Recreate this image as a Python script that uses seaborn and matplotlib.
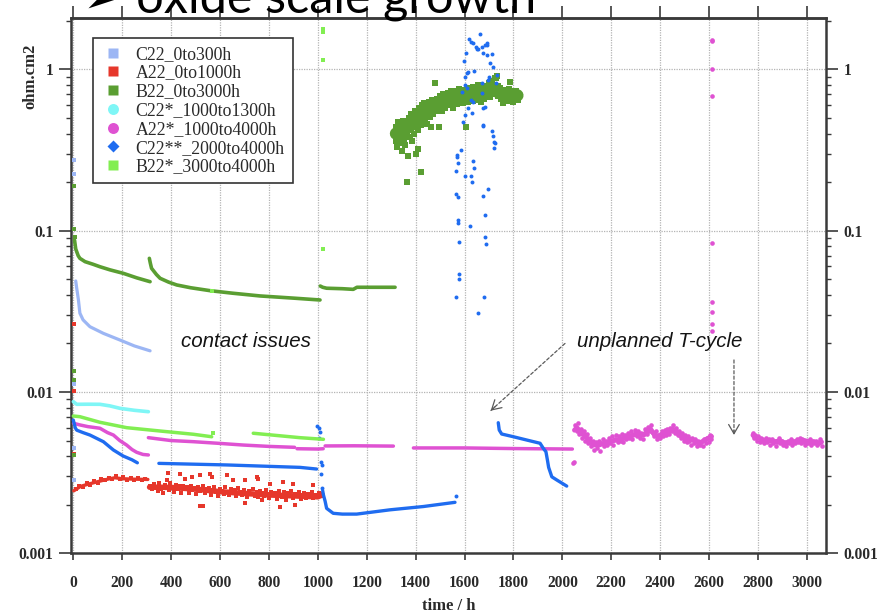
import math
import matplotlib
matplotlib.use("Agg")
import matplotlib.pyplot as plt
import seaborn as sns
from matplotlib.lines import Line2D
from matplotlib.ticker import LogLocator, NullFormatter

# ---------------------------------------------------------------- data
# each series is stored as (time in h, area specific resistance in ohm.cm2)

SERIES = ["C22_0to300h", "A22_0to1000h", "B22_0to3000h", "C22*_1000to1300h",
          "A22*_1000to4000h", "C22**_2000to4000h", "B22*_3000to4000h"]
COLORS = ["#9cb6f4", "#e6372b", "#5a9e32", "#7ff6f6", "#df52d2", "#1f6cf0", "#82ee52"]
MARKERS = ["s", "s", "s", "o", "o", "D", "s"]

XTICKS = list(range(0, 3001, 200))
YTICKS = [0.001, 0.01, 0.1, 1]
YTICK_LABELS = ["0.001", "0.01", "0.1", "1"]

# C22_0to300h
C22_CURVE = [(10, 0.0488), (14, 0.044), (18, 0.040), (21, 0.0372), (27, 0.0308), (40, 0.028),
             (68, 0.0254), (123, 0.0231), (191, 0.021), (250, 0.0193), (314, 0.0180)]
C22_POINTS = [(3, 0.274), (3, 0.225), (2, 0.0114), (2, 0.0112), (3, 0.0045), (2, 0.00285)]

# A22_0to1000h
A22_CURVE = [(2, 0.00244), (30, 0.0026), (60, 0.00268), (100, 0.00278), (140, 0.00288),
             (170, 0.00294), (200, 0.0029), (250, 0.00288), (305, 0.00287)]
A22_BAND = [(312, 0.00257), (400, 0.00256), (500, 0.0025), (600, 0.00241), (700, 0.00235),
            (800, 0.0023), (900, 0.00227), (1000, 0.00224), (1018, 0.0023)]
A22_POINTS = [(4, 0.0264), (3, 0.0102), (4, 0.00413),
              (10, 0.00250), (25, 0.00262), (40, 0.00259), (55, 0.00272), (70, 0.00266),
              (85, 0.00280), (100, 0.00273), (115, 0.00289), (130, 0.00283), (145, 0.00295),
              (160, 0.00288), (175, 0.00300), (190, 0.00289), (205, 0.00296), (220, 0.00285),
              (235, 0.00293), (250, 0.00283), (265, 0.00291), (280, 0.00284), (295, 0.00290),
              (315, 0.00262), (322, 0.00249), (330, 0.00268), (338, 0.00254), (345, 0.00243),
              (352, 0.00271), (360, 0.00252), (367, 0.00238), (375, 0.00265), (382, 0.00259),
              (390, 0.00247), (397, 0.00272), (405, 0.00255), (412, 0.00241), (420, 0.00266),
              (427, 0.00251), (435, 0.00260), (442, 0.00238), (450, 0.00263), (457, 0.00249),
              (465, 0.00257), (472, 0.00236), (480, 0.00261), (487, 0.00246), (495, 0.00254),
              (502, 0.00232), (510, 0.00258), (517, 0.00243), (525, 0.00251), (532, 0.00262),
              (540, 0.00237), (547, 0.00249), (555, 0.00255), (562, 0.00230), (570, 0.00247),
              (577, 0.00258), (585, 0.00240), (592, 0.00226), (600, 0.00252), (607, 0.00244),
              (615, 0.00233), (622, 0.00256), (630, 0.00241), (637, 0.00229), (645, 0.00250),
              (652, 0.00238), (660, 0.00246), (667, 0.00226), (675, 0.00253), (682, 0.00239),
              (690, 0.00231), (697, 0.00248), (705, 0.00236), (712, 0.00224), (720, 0.00245),
              (727, 0.00233), (735, 0.00251), (742, 0.00228), (750, 0.00240), (757, 0.00222),
              (765, 0.00244), (772, 0.00235), (780, 0.00226), (787, 0.00247), (795, 0.00232),
              (802, 0.00220), (810, 0.00241), (817, 0.00229), (825, 0.00238), (832, 0.00218),
              (840, 0.00243), (847, 0.00231), (855, 0.00224), (862, 0.00240), (870, 0.00215),
              (877, 0.00235), (885, 0.00227), (892, 0.00242), (900, 0.00220), (907, 0.00233),
              (915, 0.00226), (922, 0.00239), (930, 0.00217), (937, 0.00230), (945, 0.00236),
              (952, 0.00221), (960, 0.00233), (967, 0.00226), (975, 0.00240), (982, 0.00219),
              (990, 0.00231), (997, 0.00225), (1005, 0.00236), (1012, 0.00228), (1018, 0.00232),
              # scattered readings off the band
              (389, 0.00313), (437, 0.0031), (484, 0.00299), (518, 0.00306), (559, 0.0031),
              (566, 0.00299), (627, 0.00306), (655, 0.00285), (702, 0.00285), (750, 0.00297),
              (757, 0.0029), (804, 0.0027), (859, 0.00275), (900, 0.0027), (982, 0.00265),
              (382, 0.00285), (457, 0.0029), (518, 0.00196), (532, 0.00196), (702, 0.00204),
              (845, 0.00195), (906, 0.00199), (770, 0.00214)]

# B22_0to3000h
B22_SEG1 = [(5, 0.0875), (10, 0.077), (20, 0.070), (27, 0.0674), (48, 0.0643), (80, 0.062),
            (109, 0.0598), (150, 0.0572), (205, 0.0544), (260, 0.051), (314, 0.0483)]
B22_SEG2 = [(311, 0.0674), (315, 0.063), (320, 0.0585), (340, 0.0535), (355, 0.0507),
            (390, 0.048), (423, 0.0461), (480, 0.0443), (559, 0.0425), (650, 0.041),
            (764, 0.0394), (900, 0.0382), (1009, 0.0372)]
B22_SEG3 = [(1010, 0.0454), (1020, 0.0446), (1036, 0.0440), (1100, 0.0437), (1145, 0.0433),
            (1160, 0.0446), (1316, 0.0446)]
B22_POINTS = [(4, 0.189), (4, 0.103), (5, 0.0916), (3, 0.0135), (3, 0.0119), (4, 0.00408)]
B22_CLOUD = [(1318, 0.36), (1320, 0.44), (1322, 0.40), (1325, 0.33), (1328, 0.47), (1330, 0.38),
             (1333, 0.42), (1336, 0.35), (1340, 0.45), (1342, 0.39), (1345, 0.31), (1348, 0.43),
             (1350, 0.48), (1352, 0.37), (1355, 0.41), (1358, 0.34), (1360, 0.46), (1363, 0.40),
             (1366, 0.20), (1368, 0.44), (1370, 0.29), (1372, 0.50), (1375, 0.38), (1378, 0.47),
             (1380, 0.42), (1383, 0.53), (1386, 0.36), (1388, 0.45), (1390, 0.49), (1393, 0.40),
             (1396, 0.55), (1398, 0.44), (1400, 0.30), (1402, 0.51), (1405, 0.47), (1408, 0.42),
             (1411, 0.32), (1413, 0.58), (1416, 0.49), (1418, 0.54), (1421, 0.23), (1423, 0.45),
             (1426, 0.60), (1428, 0.52), (1431, 0.48), (1434, 0.56), (1436, 0.62), (1439, 0.50),
             (1442, 0.57), (1445, 0.46), (1447, 0.60), (1450, 0.54), (1453, 0.63), (1456, 0.58),
             (1458, 0.51), (1461, 0.44), (1464, 0.61), (1466, 0.56), (1469, 0.65), (1472, 0.53),
             (1475, 0.59), (1478, 0.62), (1481, 0.82), (1483, 0.55), (1486, 0.66), (1489, 0.60),
             (1492, 0.57), (1495, 0.64), (1497, 0.44), (1498, 0.68), (1501, 0.59), (1504, 0.62),
             (1507, 0.55), (1510, 0.66), (1513, 0.70), (1516, 0.61), (1519, 0.64), (1522, 0.58),
             (1525, 0.68), (1528, 0.63), (1531, 0.71), (1534, 0.60), (1537, 0.66), (1540, 0.69),
             (1543, 0.62), (1546, 0.73), (1549, 0.65), (1552, 0.58), (1555, 0.70), (1558, 0.67),
             (1561, 0.63), (1564, 0.74), (1567, 0.68), (1570, 0.61), (1573, 0.71), (1576, 0.66),
             (1579, 0.76), (1582, 0.64), (1585, 0.70), (1588, 0.67), (1591, 0.73), (1594, 0.62),
             (1597, 0.69), (1600, 0.75), (1603, 0.66), (1606, 0.44), (1609, 0.72), (1612, 0.68),
             (1615, 0.63), (1618, 0.77), (1621, 0.70), (1624, 0.66), (1627, 0.73), (1630, 0.69),
             (1633, 0.64), (1636, 0.78), (1639, 0.71), (1642, 0.67), (1645, 0.74), (1648, 0.70),
             (1651, 0.65), (1654, 0.80), (1657, 0.72), (1660, 0.68), (1663, 0.75), (1666, 0.63),
             (1669, 0.71), (1672, 0.77), (1675, 0.69), (1678, 0.74), (1681, 0.66), (1684, 0.79),
             (1687, 0.72), (1690, 0.68), (1693, 0.76), (1696, 0.70), (1699, 0.82), (1702, 0.73),
             (1705, 0.67), (1708, 0.78), (1711, 0.71), (1714, 0.85), (1717, 0.75), (1720, 0.80),
             (1723, 0.70), (1726, 0.88), (1728, 0.89), (1729, 0.76), (1732, 0.91), (1735, 0.79),
             (1738, 0.68), (1741, 0.74), (1744, 0.71), (1747, 0.77), (1750, 0.66), (1753, 0.73),
             (1756, 0.69), (1759, 0.62), (1762, 0.75), (1765, 0.70), (1768, 0.67), (1771, 0.74),
             (1774, 0.64), (1777, 0.71), (1780, 0.68), (1783, 0.76), (1786, 0.83), (1789, 0.66),
             (1792, 0.72), (1795, 0.69), (1798, 0.63), (1801, 0.74), (1804, 0.70), (1807, 0.66),
             (1810, 0.73), (1813, 0.68), (1816, 0.71), (1818, 0.65)]
# the dense core of the B22 cloud
B22_CLOUD_CORE = [(1320, 0.40), (1340, 0.41), (1360, 0.43), (1380, 0.45), (1400, 0.48),
                  (1420, 0.51), (1440, 0.55), (1460, 0.58), (1480, 0.60), (1500, 0.62),
                  (1520, 0.63), (1540, 0.65), (1560, 0.67), (1580, 0.68), (1600, 0.69),
                  (1620, 0.70), (1640, 0.71), (1660, 0.71), (1680, 0.72), (1700, 0.73),
                  (1720, 0.75), (1740, 0.72), (1760, 0.70), (1780, 0.70), (1800, 0.70),
                  (1816, 0.69)]

# C22*_1000to1300h
C22S_CURVE = [(0, 0.00871), (14, 0.00839), (60, 0.0084), (109, 0.00839), (150, 0.0082),
              (191, 0.00792), (250, 0.0077), (307, 0.00755)]

# A22*_1000to4000h
A22S_SEG1 = [(1, 0.0064), (27, 0.00625), (60, 0.0061), (109, 0.00596), (140, 0.0056),
             (164, 0.00541), (190, 0.0050), (218, 0.00469), (240, 0.0044), (259, 0.00423),
             (285, 0.0041), (307, 0.00407)]
A22S_SEG2 = [(307, 0.00521), (400, 0.0050), (491, 0.00492), (600, 0.0048), (695, 0.00469),
             (800, 0.0046), (905, 0.00454)]
A22S_SEG3 = [(915, 0.00445), (1000, 0.00443), (1022, 0.00445)]
A22S_SEG4 = [(1030, 0.00463), (1150, 0.00464), (1309, 0.00462)]
A22S_SEG5 = [(1391, 0.0045), (1600, 0.0045), (1800, 0.00446), (2041, 0.00443)]
A22S_SEG6 = [(2050, 0.0058), (2060, 0.0060), (2075, 0.0056), (2090, 0.0054), (2110, 0.0050),
             (2130, 0.0047), (2150, 0.0047), (2170, 0.0048), (2190, 0.0049), (2210, 0.0050),
             (2240, 0.0051), (2270, 0.0053), (2290, 0.0054), (2310, 0.0055), (2330, 0.0054),
             (2350, 0.0057), (2360, 0.0059), (2375, 0.0055), (2390, 0.0053), (2410, 0.0055),
             (2430, 0.0056), (2450, 0.0059), (2465, 0.0057), (2480, 0.0054), (2500, 0.0052),
             (2520, 0.0051), (2540, 0.0050), (2560, 0.0048), (2580, 0.0050), (2600, 0.0052),
             (2610, 0.0053)]
A22S_SEG7 = [(2780, 0.0054), (2790, 0.0052), (2810, 0.0051), (2830, 0.0050), (2850, 0.0050),
             (2870, 0.0049), (2890, 0.0050), (2910, 0.0048), (2930, 0.0049), (2950, 0.0049),
             (2970, 0.0050), (2990, 0.0050), (3010, 0.0049), (3030, 0.0049), (3050, 0.0048),
             (3060, 0.0049)]
A22S_POINTS = [(2045, 0.00361), (2049, 0.0037),
               (2613, 1.52), (2613, 1.49), (2612, 1.01), (2613, 0.684), (2612, 0.0836),
               (2612, 0.0363), (2613, 0.0315), (2613, 0.0264), (2613, 0.024),
               (2052, 0.0062), (2058, 0.0057), (2064, 0.0064), (2070, 0.0055), (2076, 0.0059),
               (2082, 0.0052), (2088, 0.0057), (2094, 0.0050), (2100, 0.0055), (2106, 0.0048),
               (2112, 0.0052), (2118, 0.0046), (2124, 0.0050), (2130, 0.0044), (2136, 0.0049),
               (2142, 0.0045), (2148, 0.0050), (2154, 0.0043), (2160, 0.0048), (2166, 0.0051),
               (2172, 0.0046), (2178, 0.0050), (2184, 0.0047), (2190, 0.0052), (2196, 0.0048),
               (2202, 0.0053), (2208, 0.0047), (2214, 0.0051), (2220, 0.0054), (2226, 0.0049),
               (2232, 0.0053), (2238, 0.0050), (2244, 0.0055), (2250, 0.0049), (2256, 0.0054),
               (2262, 0.0051), (2268, 0.0056), (2274, 0.0052), (2280, 0.0057), (2286, 0.0051),
               (2292, 0.0055), (2298, 0.0058), (2304, 0.0053), (2310, 0.0057), (2316, 0.0052),
               (2322, 0.0056), (2328, 0.0051), (2334, 0.0055), (2340, 0.0059), (2346, 0.0055),
               (2352, 0.0061), (2358, 0.0057), (2364, 0.0062), (2370, 0.0056), (2376, 0.0053),
               (2382, 0.0057), (2388, 0.0051), (2394, 0.0054), (2400, 0.0052), (2406, 0.0057),
               (2412, 0.0053), (2418, 0.0058), (2424, 0.0054), (2430, 0.0059), (2436, 0.0055),
               (2442, 0.0060), (2448, 0.0057), (2454, 0.0062), (2460, 0.0056), (2466, 0.0060),
               (2472, 0.0054), (2478, 0.0057), (2484, 0.0052), (2490, 0.0056), (2496, 0.0050),
               (2502, 0.0054), (2508, 0.0049), (2514, 0.0053), (2520, 0.0050), (2526, 0.0047),
               (2532, 0.0052), (2538, 0.0048), (2544, 0.0051), (2550, 0.0046), (2556, 0.0050),
               (2562, 0.0047), (2568, 0.0049), (2574, 0.0046), (2580, 0.0051), (2586, 0.0048),
               (2592, 0.0052), (2598, 0.0049), (2604, 0.0054), (2610, 0.0051),
               (2778, 0.0056), (2784, 0.0052), (2790, 0.0054), (2796, 0.0050), (2802, 0.0053),
               (2808, 0.0049), (2814, 0.0052), (2820, 0.0050), (2826, 0.0048), (2832, 0.0052),
               (2838, 0.0049), (2844, 0.0051), (2850, 0.0047), (2856, 0.0051), (2862, 0.0048),
               (2868, 0.0050), (2874, 0.0046), (2880, 0.0049), (2886, 0.0052), (2892, 0.0048),
               (2898, 0.0050), (2904, 0.0047), (2910, 0.0049), (2916, 0.0046), (2922, 0.0050),
               (2928, 0.0048), (2934, 0.0051), (2940, 0.0047), (2946, 0.0050), (2952, 0.0048),
               (2958, 0.0051), (2964, 0.0049), (2970, 0.0052), (2976, 0.0048), (2982, 0.0051),
               (2988, 0.0049), (2994, 0.0047), (3000, 0.0050), (3006, 0.0048), (3012, 0.0051),
               (3018, 0.0047), (3024, 0.0050), (3030, 0.0048), (3036, 0.0050), (3042, 0.0047),
               (3048, 0.0049), (3054, 0.0051), (3060, 0.0046)]

# C22**_2000to4000h
C22SS_SEG1 = [(0, 0.0067), (8, 0.0060), (14, 0.0058), (40, 0.0056), (68, 0.00541),
              (123, 0.00492), (164, 0.00437), (204, 0.00401), (240, 0.0038), (262, 0.00364)]
C22SS_SEG2 = [(350, 0.00361), (627, 0.00353), (927, 0.00341), (995, 0.00333)]
C22SS_SEG3 = [(1020, 0.00244), (1023, 0.0023), (1030, 0.0021), (1036, 0.0019), (1063, 0.00177),
              (1100, 0.00175), (1159, 0.00175), (1295, 0.00186), (1432, 0.00195), (1561, 0.00207)]
C22SS_SEG4 = [(1738, 0.00645), (1742, 0.00581), (1752, 0.00549), (1800, 0.00528),
              (1854, 0.00504), (1909, 0.00481), (1922, 0.00448), (1933, 0.00426),
              (1939, 0.00379), (1944, 0.00341), (1957, 0.00298), (1977, 0.00285),
              (2018, 0.00261)]
C22SS_POINTS = [(998, 0.00618), (1005, 0.00595), (1011, 0.00563), (1003, 0.00516),
                (1014, 0.0037), (1016, 0.00353), (1014, 0.0031), (1016, 0.00253), (1565, 0.00227),
                (1663, 1.66), (1620, 1.54), (1625, 1.48), (1636, 1.45), (1647, 1.37), (1650, 1.33),
                (1657, 1.33), (1670, 1.37), (1684, 1.42), (1691, 1.46), (1693, 1.42), (1677, 1.26),
                (1693, 1.23), (1711, 1.25), (1606, 1.26), (1598, 1.12), (1616, 0.968), (1612, 0.946),
                (1639, 0.982), (1602, 0.901), (1704, 1.10), (1718, 1.03), (1701, 0.901),
                (1698, 0.859), (1732, 0.923), (1729, 0.82), (1670, 0.827), (1602, 0.80),
                (1609, 0.763), (1589, 0.727), (1670, 0.711), (1636, 0.631), (1625, 0.646),
                (1616, 0.574), (1629, 0.539), (1677, 0.574), (1684, 0.582), (1602, 0.521),
                (1595, 0.474), (1677, 0.452), (1676, 0.445), (1711, 0.417), (1715, 0.387),
                (1721, 0.356), (1725, 0.35), (1721, 0.324), (1585, 0.316), (1571, 0.295),
                (1568, 0.285), (1575, 0.262), (1565, 0.236), (1602, 0.218), (1636, 0.271),
                (1639, 0.245), (1625, 0.218), (1632, 0.1996), (1698, 0.181), (1677, 0.164),
                (1565, 0.169), (1575, 0.162), (1684, 0.125), (1575, 0.117), (1575, 0.112),
                (1623, 0.107), (1684, 0.091), (1688, 0.0827), (1579, 0.0847), (1579, 0.0537),
                (1579, 0.050), (1565, 0.0386), (1680, 0.0386), (1657, 0.031)]

# B22*_3000to4000h
B22S_SEG1 = [(0, 0.0071), (27, 0.00703), (109, 0.00649), (218, 0.00601), (355, 0.00573),
             (491, 0.00547), (566, 0.00528)]
B22S_SEG2 = [(736, 0.00555), (927, 0.00521), (1023, 0.00509)]
B22S_POINTS = [(570, 0.00555), (566, 0.0423), (1022, 1.77), (1022, 1.70), (1022, 1.14),
               (1022, 0.0768)]

# ---------------------------------------------------------------- style
sns.set_theme(style="white")
plt.rcParams["font.family"] = ["Liberation Serif", "DejaVu Serif"]
plt.rcParams["axes.edgecolor"] = "#3a3a3a"
plt.rcParams["axes.linewidth"] = 1.8

fig = plt.figure(figsize=(8.93, 6.13), dpi=100)
fig.patch.set_facecolor("white")
ax = fig.add_axes([0.0795, 0.0974, 0.8451, 0.8727])
ax.set_facecolor("white")
ax.set_yscale("log")
ax.set_xlim(-9.4, 3077)
ax.set_ylim(0.001, 2.074)


def unzip(pairs):
    t, v = zip(*pairs)
    return list(t), list(v)


def curve(pairs, color, lw=2.3, z=3):
    t, v = unzip(pairs)
    sns.lineplot(x=t, y=v, ax=ax, color=color, lw=lw, sort=False, estimator=None,
                 solid_capstyle="round", solid_joinstyle="round", zorder=z, legend=False)


def dots(pairs, color, marker="o", s=7, z=4):
    t, v = unzip(pairs)
    sns.scatterplot(x=t, y=v, ax=ax, color=color, marker=marker, s=s, linewidth=0,
                    zorder=z, legend=False)


c_lblue, c_red, c_green, c_cyan, c_mag, c_blue, c_lgreen = COLORS

# C22_0to300h
curve(C22_CURVE, c_lblue)
dots(C22_POINTS, c_lblue, marker="s", s=8)
# A22_0to1000h
curve(A22_CURVE, c_red, lw=2.4)
curve(A22_BAND, c_red, lw=4.0)
dots(A22_POINTS, c_red, marker="s", s=10)
# B22_0to3000h
for seg in (B22_SEG1, B22_SEG2, B22_SEG3):
    curve(seg, c_green, lw=2.6)
dots(B22_POINTS, c_green, marker="s", s=9)
curve(B22_CLOUD_CORE, c_green, lw=9)
dots(B22_CLOUD, c_green, marker="s", s=16)
# C22*_1000to1300h
curve(C22S_CURVE, c_cyan, lw=2.6)
# A22*_1000to4000h
for seg in (A22S_SEG1, A22S_SEG2, A22S_SEG3, A22S_SEG4, A22S_SEG5):
    curve(seg, c_mag, lw=2.5)
for seg in (A22S_SEG6, A22S_SEG7):
    curve(seg, c_mag, lw=3.6)
dots(A22S_POINTS, c_mag, s=11)
# C22**_2000to4000h
for seg in (C22SS_SEG1, C22SS_SEG2, C22SS_SEG3, C22SS_SEG4):
    curve(seg, c_blue, lw=2.4, z=5)
dots(C22SS_POINTS, c_blue, s=8, z=5)
# B22*_3000to4000h
for seg in (B22S_SEG1, B22S_SEG2):
    curve(seg, c_lgreen, lw=2.5, z=5)
dots(B22S_POINTS, c_lgreen, marker="s", s=9, z=5)

# ---------------------------------------------------------------- axes
ax.set_xticks(XTICKS)
ax.set_xticklabels([str(x) for x in XTICKS])
ax.set_yticks(YTICKS)
ax.set_yticklabels(YTICK_LABELS)
ax.yaxis.set_minor_locator(LogLocator(base=10, subs=range(2, 10), numticks=20))
ax.yaxis.set_minor_formatter(NullFormatter())
ax.set_ylim(0.001, 2.074)

ax.tick_params(axis="x", which="major", direction="out", length=4.8, width=1.2,
               pad=10.5, bottom=True, top=False, labelsize=11.2, colors="#3a3a3a")
ax.tick_params(axis="y", which="major", direction="out", length=8.8, width=1.2, pad=4,
               left=True, right=True, labelleft=True, labelright=True, labelsize=11.2,
               colors="#3a3a3a")
ax.tick_params(axis="y", which="minor", direction="out", length=3.8, width=1.0,
               left=True, right=True, colors="#3a3a3a")
for lab in ax.get_xticklabels() + ax.get_yticklabels():
    lab.set_fontweight("bold")
    lab.set_color("#2a2a2a")
for tk in ax.yaxis.get_major_ticks():
    tk.label2.set_fontweight("bold")
    tk.label2.set_color("#2a2a2a")
    tk.label2.set_fontsize(11.2)

top = ax.secondary_xaxis("top")
top.set_xticks(XTICKS)
top.tick_params(axis="x", direction="out", length=8.8, width=1.2, labeltop=False,
                colors="#3a3a3a")
top.spines["top"].set_linewidth(1.8)
top.spines["top"].set_color("#3a3a3a")

ax.grid(True, which="major", color="#b4b4b4", linestyle=(0, (1, 1)), linewidth=0.9)
ax.set_axisbelow(True)

ax.set_xlabel("time / h", fontsize=12, fontweight="bold", color="#2a2a2a")
ax.xaxis.set_label_coords(0.5, -0.0836)
ax.set_ylabel("ohm.cm2", fontsize=12, fontweight="bold", color="#2a2a2a")
ax.yaxis.set_label_coords(-0.0437, 0.891)

# ---------------------------------------------------------------- legend
handles = [Line2D([], [], ls="none", marker=m, ms=(6.5 if m == "D" else 7.9), color=c,
                  mec="none", label=lab)
           for lab, c, m in zip(SERIES, COLORS, MARKERS)]
leg = ax.legend(handles=handles, loc="upper left", bbox_to_anchor=(0.0288, 0.9637),
                borderaxespad=0, fontsize=12.8, frameon=True, fancybox=False,
                edgecolor="#333333", framealpha=1, borderpad=0.45, labelspacing=0.1,
                handlelength=1.4, handletextpad=0.55)
leg.get_frame().set_linewidth(1.2)
for txt in leg.get_texts():
    txt.set_color("#2a2a2a")

# ---------------------------------------------------------------- notes
note_font = dict(fontsize=14.8, style="italic", family=["Liberation Sans", "DejaVu Sans"],
                 color="#141414", ha="center", va="center")
ax.text(708, 0.0205, "contact issues", **note_font)
ax.text(2400, 0.0205, "unplanned T-cycle", **note_font)

arrow_col = "#5a5a5a"
for tail, tip in [((2011, 0.0200), (1707, 0.00766)), ((2702, 0.0158), (2702, 0.00542))]:
    ax.annotate("", xy=tip, xytext=tail,
                arrowprops=dict(arrowstyle="-", color=arrow_col, lw=0.9,
                                linestyle=(0, (2.5, 1.8)), shrinkA=0, shrinkB=0))
    # solid arrow head on a short stub at the tip
    lt0, lt1 = math.log10(tail[1]), math.log10(tip[1])
    stub = (tip[0] + 0.06 * (tail[0] - tip[0]), 10 ** (lt1 + 0.06 * (lt0 - lt1)))
    ax.annotate("", xy=tip, xytext=stub,
                arrowprops=dict(arrowstyle="->,head_length=0.55,head_width=0.32",
                                color=arrow_col, lw=0.9, shrinkA=0, shrinkB=0))

# slide heading running off the top edge
fig.text(0.093, 1 - 12.3 / 613, "\u27a2 oxide scale growth", fontsize=35,
         family=["Lato", "DejaVu Sans"], ha="left", va="baseline", color="black")

fig.savefig("out.png", dpi=100, facecolor="white")
